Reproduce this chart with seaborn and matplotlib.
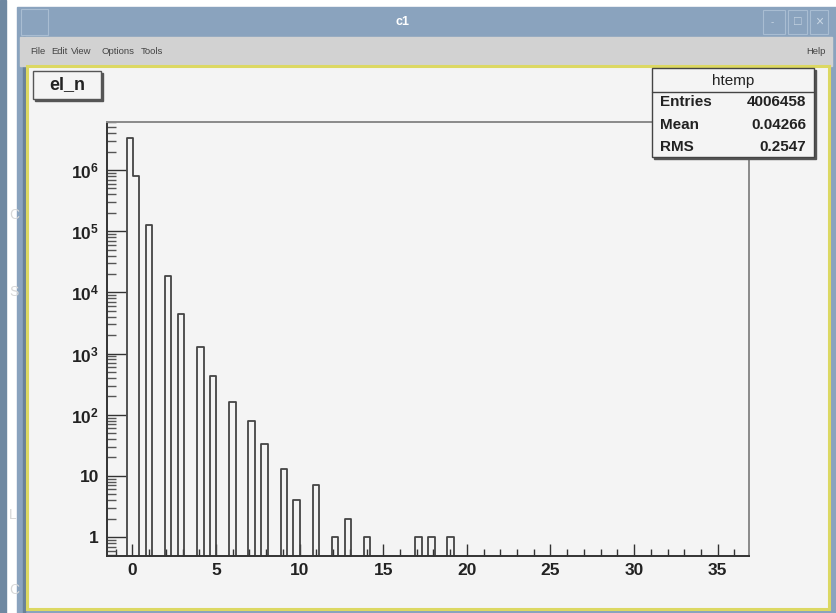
import matplotlib.pyplot as plt
import numpy as np
import pandas as pd
import seaborn as sns
from matplotlib.patches import Rectangle
from matplotlib.ticker import MultipleLocator, LogLocator, NullFormatter

# histogram contents (bin position -> entries)
el_n = [0, 0.2, 1, 2, 3, 4, 5, 6, 7, 8, 9, 10, 11, 12, 13, 14, 17, 18, 19]
entries = [3.3e6, 8.1e5, 1.27e5, 1.83e4, 4.4e3, 1.29e3, 436, 159, 80, 33,
           13, 4, 7, 1, 2, 1, 1, 1, 1]

# binning of the ROOT htemp histogram
x_lo, x_hi, n_bins = -1.5, 36.87, 100

xtick_vals = [0, 5, 10, 15, 20, 25, 30, 35]
ytick_vals = [1, 10, 1e2, 1e3, 1e4, 1e5, 1e6]
ytick_labels = ['1', '10', '$10^{2}$', '$10^{3}$', '$10^{4}$', '$10^{5}$', '$10^{6}$']

menu_items = [('File', 30), ('Edit', 51), ('View', 71), ('Options', 102), ('Tools', 141)]
stats_labels = ['Entries', 'Mean', 'RMS']
stats_values = ['4006458', '0.04266', '0.2547']

sns.set_style("white")
plt.rcParams['font.family'] = ['Liberation Sans', 'DejaVu Sans']
plt.rcParams['mathtext.fontset'] = 'custom'
plt.rcParams['mathtext.rm'] = 'Liberation Sans:bold'
plt.rcParams['mathtext.default'] = 'rm'

W, H = 837, 613
fig = plt.figure(figsize=(W / 100, H / 100), dpi=100)
fig.patch.set_facecolor('white')

# window chrome drawn in pixel coordinates
bg = fig.add_axes([0, 0, 1, 1])
bg.set_xlim(0, W)
bg.set_ylim(H, 0)
bg.axis('off')

bg.add_patch(Rectangle((0, 0), 6, H, color='#6f88a1'))
for y, ch in [(215, 'C'), (292, 'S'), (515, 'L'), (590, 'C')]:
    bg.text(9, y, ch, color='#d8d8d8', fontsize=10, ha='left', va='center')

bg.add_patch(Rectangle((17, 7), W - 17, H - 7, color='#8aa3be'))
bg.add_patch(Rectangle((23, 37), 2, H - 37, color='#6a8299'))
# title bar
bg.add_patch(Rectangle((21, 9), 27, 26, fill=False, ec='#a9bdd2', lw=0.8))
bg.text(403, 22, 'c1', color='white', fontsize=9, fontweight='bold',
        ha='center', va='center')
for bx, bw in [(763, 22), (788, 19), (810, 18)]:
    bg.add_patch(Rectangle((bx, 10), bw, 24, fill=False, ec='#a9bdd2', lw=0.8))
bg.text(772, 22, '-', color='#c8d6e4', fontsize=7, ha='center', va='center')
bg.text(798, 22, '□', color='#c8d6e4', fontsize=9, ha='center', va='center')
bg.text(819, 22, '×', color='#c8d6e4', fontsize=10, ha='center', va='center')
# menu bar
bg.add_patch(Rectangle((20, 37), W - 25, 29, color='#d2d2d2'))
for name, mx in menu_items:
    bg.text(mx, 52, name, color='#444444', fontsize=6.8, ha='left', va='center')
bg.text(826, 52, 'Help', color='#444444', fontsize=6.8, ha='right', va='center')
# canvas
bg.add_patch(Rectangle((27, 66), 802, 543, fc='#f4f4f4', ec='#dcd862', lw=2.2))

# the histogram pad
ax = fig.add_axes([107.3 / W, 1 - 556 / H, (749 - 107.3) / W, (556 - 122) / H])
ax.set_facecolor('#f4f4f4')
df = pd.DataFrame({'el_n': el_n, 'entries': entries})
edges = list(np.linspace(x_lo, x_hi, n_bins + 1))
sns.histplot(data=df, x='el_n', weights='entries', bins=edges, element='step',
             fill=False, color='#444444', linewidth=1.3, ax=ax)
ax.set_yscale('log')
ax.set_xlim(x_lo, x_hi)
ax.set_ylim(0.49, 6.1e6)
ax.set_xlabel('')
ax.set_ylabel('')

ax.set_xticks(xtick_vals)
ax.set_xticklabels([str(v) for v in xtick_vals])
ax.xaxis.set_minor_locator(MultipleLocator(1))
ax.set_yticks(ytick_vals)
ax.set_yticklabels(ytick_labels)
ax.yaxis.set_minor_locator(LogLocator(base=10, subs=np.arange(2, 10)))
ax.yaxis.set_minor_formatter(NullFormatter())

ax.tick_params(which='both', bottom=True, left=True, top=False, right=False)
ax.tick_params(axis='x', which='major', direction='in', length=9, width=1,
               color='#333333', pad=5, labelsize=12.5)
ax.tick_params(axis='x', which='minor', direction='in', length=5, width=1,
               color='#333333')
ax.tick_params(axis='y', which='major', direction='in', length=13.5, width=1,
               color='#333333', pad=6, labelsize=12.5)
ax.tick_params(axis='y', which='minor', direction='in', length=6.5, width=1,
               color='#555555')
for lab in ax.get_xticklabels() + ax.get_yticklabels():
    lab.set_fontweight('bold')
    lab.set_color('#222222')

for side in ['left', 'bottom']:
    ax.spines[side].set_color('#333333')
    ax.spines[side].set_linewidth(1.4)
for side in ['top', 'right']:
    ax.spines[side].set_color('#8a8a8a')
    ax.spines[side].set_linewidth(1.4)

# title box and statistics box on top of the pad
fg = fig.add_axes([0, 0, 1, 1])
fg.set_xlim(0, W)
fg.set_ylim(H, 0)
fg.axis('off')
fg.patch.set_alpha(0)

fg.add_patch(Rectangle((35, 73), 68, 28, color='#555555'))
fg.add_patch(Rectangle((33, 71), 68, 28, fc='#f4f4f4', ec='#555555', lw=1))
fg.text(67, 85, 'el_n', fontsize=13, fontweight='bold', color='#222222',
        ha='center', va='center')

fg.add_patch(Rectangle((654, 70), 162, 89, color='#555555'))
fg.add_patch(Rectangle((652, 68), 162, 89, fc='#f4f4f4', ec='#444444', lw=1))
fg.plot([652, 814], [92, 92], color='#444444', lw=1)
fg.text(733, 80.5, 'htemp', fontsize=11, color='#222222', ha='center', va='center')
for i, (lab, val) in enumerate(zip(stats_labels, stats_values)):
    y = 102.5 + i * 22.3
    fg.text(660, y, lab, fontsize=11, fontweight='bold', color='#222222',
            ha='left', va='center')
    fg.text(806, y, val, fontsize=11, fontweight='bold', color='#222222',
            ha='right', va='center')

plt.savefig('out.png', dpi=100)
